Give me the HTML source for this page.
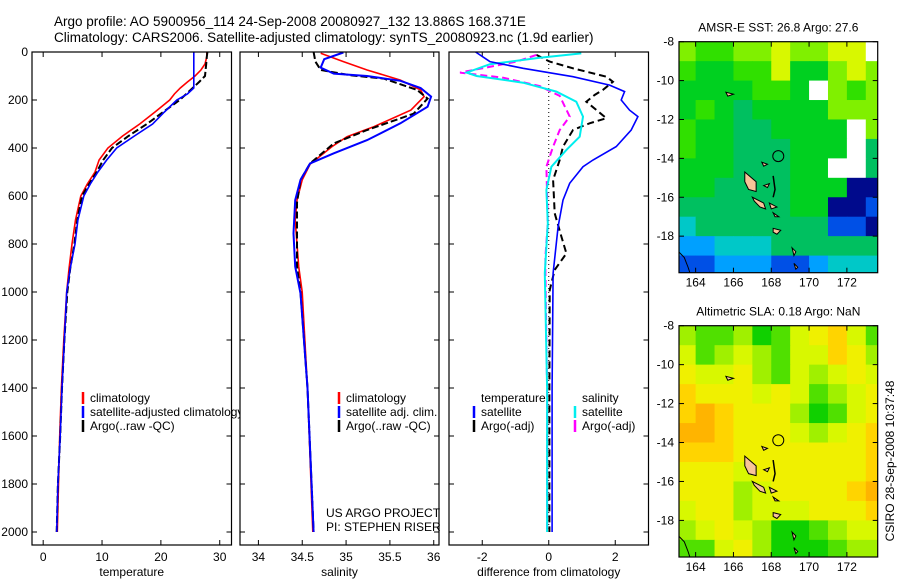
<!DOCTYPE html>
<html><head><meta charset="utf-8"><style>
html,body{margin:0;padding:0;background:#fff}
svg{display:block;font-family:"Liberation Sans",sans-serif}
</style></head><body>
<svg id="c" width="900" height="580" xmlns="http://www.w3.org/2000/svg"></svg>
<script>
// ---- data ----
const tempClimDepth=[0,20,50,75,100,125,150,175,200,250,300,350,400,450,500,550,600,700,800,900,1000,1200,1400,1600,1800,2000];
const tempClim=[27.8,27.8,27.5,26.8,25.8,24.5,23.3,22.3,21.5,19,16.4,13.5,11,9.5,8.8,7.5,6.4,5.5,4.9,4.4,4.0,3.5,3.1,2.8,2.6,2.4];
const tempSat=[25.6,25.6,25.6,25.6,25.6,25.6,25.6,24.5,22.7,20.6,18.6,15.5,12.5,10.8,9.3,8,6.9,5.9,5.4,4.6,4.0,3.6,3.2,2.9,2.5,2.3];
const tempArgo=[27.9,27.8,27.7,27.6,27.5,26.5,25.4,24.3,23.2,20.4,17.6,14.5,11.7,10.2,9.1,7.8,6.6,5.8,5.3,4.6,4.1,3.6,3.2,2.9,2.5,2.3];
const salClimDepth=[5,40,75,117,158,186,242,311,353,394,467,533,617,700,894,1000,1400,2000];
const salClim=[34.71,34.97,35.24,35.62,35.85,35.89,35.74,35.32,35.01,34.84,34.59,34.5,34.44,34.42,34.46,34.5,34.56,34.62];
const salSatDepth=[2,30,65,90,100,120,150,186,228,297,367,422,464,533,617,756,894,1006,1400,2000];
const salSat=[34.97,34.75,34.71,34.86,35.24,35.62,35.85,35.97,35.93,35.62,35.24,34.86,34.59,34.48,34.42,34.40,34.42,34.48,34.56,34.63];
const salArgoDepth=[0,40,75,97,111,158,194,257,325,381,464,533,628,700,894,1000,1400,2000];
const salArgo=[34.63,34.65,34.71,35.05,35.43,35.81,35.93,35.77,35.24,34.86,34.59,34.48,34.44,34.44,34.44,34.48,34.56,34.63];
const dTsatDepth=[0,40,68,103,138,165,200,242,269,325,394,450,478,547,617,728,922,1400,2000];
const dTsat=[-2.2,-1.77,-0.77,0.73,1.83,2.28,2.18,2.43,2.68,2.48,2.03,1.33,1.03,0.63,0.43,0.28,0.13,0.1,0.1];
const dTargoDepth=[12,40,68,103,124,158,179,207,276,297,325,394,450,533,672,769,839,908,992,1400,2000];
const dTargo=[-0.37,0.03,0.73,1.73,1.93,1.63,1.38,1.13,1.73,1.23,0.73,0.43,0.33,0.13,0.18,0.38,0.53,0.18,0.03,0.02,0.02];
const dSsatDepth=[6,24,51,86,100,128,165,207,269,353,408,478,575,714,922,1400,2000];
const dSsat=[0.98,-0.27,-1.77,-2.47,-2.17,-0.77,0.23,0.83,1.03,0.93,0.53,0.08,-0.07,-0.03,-0.12,-0.05,-0.05];
const dSargoDepth=[12,40,86,107,142,183,269,325,394,478,714,853,922,1400,2000];
const dSargo=[-0.37,-0.97,-2.67,-1.37,-0.27,0.33,0.63,0.33,0.13,-0.07,-0.03,-0.1,-0.1,-0.05,-0.05];
const depthTicks=[0,200,400,600,800,1000,1200,1400,1600,1800,2000];
const tempTicks=[0,10,20,30];
const salTicks=[34,34.5,35,35.5,36];
const salTickLabels=["34","34.5","35","35.5","36"];
const diffTicks=[-2,0,2];
const latTicks=[-8,-10,-12,-14,-16,-18];
const lonTicks=[164,166,168,170,172];
const sstGrid=[
[7,6,6,7,7,8,7,7,8,8,9],[6,5,5,6,6,8,5,5,7,8,7],[5,5,5,5,6,6,5,9,7,6,7],[5,6,5,4,5,5,5,5,7,7,7],
[6,5,5,4,4,5,5,5,5,9,7],[6,5,5,4,4,4,5,5,5,9,4],[5,5,5,4,4,4,5,5,9,9,4],[5,5,4,4,4,4,5,5,5,0,0],
[4,4,4,4,4,4,5,5,0,0,1],[3,4,4,4,4,4,4,4,1,1,0],[2,2,3,3,3,4,4,4,4,4,4],[1,1,2,2,2,1,1,2,3,3,3]];
const slaGrid=[
[2,1,1,2,0,1,3,4,5,3,1],[3,1,2,3,2,1,3,3,5,4,2],[4,3,3,4,2,1,3,2,3,4,3],[5,4,4,4,3,4,3,1,2,3,4],
[5,6,5,4,4,4,2,0,1,3,4],[6,6,5,4,4,4,3,2,3,4,5],[5,5,5,4,4,4,4,4,4,4,5],[4,4,4,3,4,4,4,4,4,4,5],
[4,4,4,2,3,4,4,4,4,5,6],[3,4,4,2,3,3,3,4,4,4,5],[2,3,4,3,2,0,0,1,2,3,3],[1,1,3,4,2,0,0,0,1,2,2]];
const sstColors=["#000a8c","#0050e6","#00a0ff","#00c8c8","#00c060","#00d020","#30e000","#80f000","#d8f800","#ffffff"];
const slaColors=["#10d000","#50e000","#a0f000","#d8f800","#f0f000","#ffd400","#ffb400"];
const argoLon=168.371, argoLat=-13.886;

const NS="http://www.w3.org/2000/svg", svg=document.getElementById('c');
function el(t,a,p){const e=document.createElementNS(NS,t);for(const k in a)e.setAttribute(k,a[k]);(p||svg).appendChild(e);return e;}
function txt(s,x,y,a,p){const e=el('text',Object.assign({x:x,y:y,'font-size':12,fill:'#000'},a||{}),p);e.textContent=s;return e;}
const Y0=52,YS=0.24, PB=545;
const yD=d=>Y0+d*YS;
function lin(d0,d1,r0,r1){return v=>r0+(v-d0)/(d1-d0)*(r1-r0);}

const panels=[
 {name:'temperature-panel',l:32,r:231.5,x:lin(-1.9,32,32,231.5),ticks:tempTicks,labels:tempTicks.map(String),title:'temperature'},
 {name:'salinity-panel',l:240,r:439,x:lin(33.79,36.06,240,439),ticks:salTicks,labels:salTickLabels,title:'salinity'},
 {name:'difference-panel',l:449,r:648.5,x:lin(-3,3,449,648.5),ticks:diffTicks,labels:diffTicks.map(String),title:'difference from climatology'}
];

function line(p,depths,vals,color,dash,w,name){
  const pts=depths.map((d,i)=>p.x(vals[i]).toFixed(1)+','+yD(d).toFixed(1)).join(' ');
  const e=el('polyline',{points:pts,fill:'none',stroke:color,'stroke-width':w||1.6,'stroke-dasharray':dash||'none'},p.g);
  
  
}

txt('Argo profile: AO 5900956_114 24-Sep-2008 20080927_132 13.886S 168.371E',54,26,{'font-size':13.5});
txt('Climatology: CARS2006. Satellite-adjusted climatology: synTS_20080923.nc (1.9d earlier)',54,42,{'font-size':13.5});

panels.forEach((p,pi)=>{
  const g=el('g',{});
  
  
  p.g=g;
  el('rect',{x:p.l,y:Y0,width:p.r-p.l,height:PB-Y0,fill:'#fff'},g);
  depthTicks.forEach(d=>{
    el('line',{x1:p.l,x2:p.l+5,y1:yD(d),y2:yD(d),stroke:'#000'},g);
    el('line',{x1:p.r,x2:p.r-5,y1:yD(d),y2:yD(d),stroke:'#000'},g);
    if(pi===0) txt(String(d),p.l-4,yD(d)+4,{'text-anchor':'end','font-size':12},g);
  });
  p.ticks.forEach((t,i)=>{
    const x=p.x(t);
    el('line',{x1:x,x2:x,y1:PB,y2:PB-5,stroke:'#000'},g);
    el('line',{x1:x,x2:x,y1:Y0,y2:Y0+5,stroke:'#000'},g);
    txt(p.labels[i],x,561,{'text-anchor':'middle'},g);
  });
  txt(p.title,(p.l+p.r)/2,576,{'text-anchor':'middle'},g);
});
const [P1,P2,P3]=panels;
el('line',{x1:P3.x(0),x2:P3.x(0),y1:Y0,y2:yD(2000),stroke:'#000','stroke-dasharray':'1,3'},P3.g);

line(P1,tempClimDepth,tempClim,'#f00','',1.6,'temp-climatology-line');
line(P1,tempClimDepth,tempArgo,'#000','7,3',2,'temp-argo-line');
line(P1,tempClimDepth,tempSat,'#00f','',1.6,'temp-satellite-line');
line(P2,salClimDepth,salClim,'#f00','',1.6,'sal-climatology-line');
line(P2,salArgoDepth,salArgo,'#000','7,3',2,'sal-argo-line');
line(P2,salSatDepth,salSat,'#00f','',2,'sal-satellite-line');
line(P3,dTargoDepth,dTargo,'#000','7,4',2,'diff-temp-argo-line');
line(P3,dSargoDepth,dSargo,'#f0f','7,4',2,'diff-sal-argo-line');
line(P3,dSsatDepth,dSsat,'#0ee','',2,'diff-sal-satellite-line');
line(P3,dTsatDepth,dTsat,'#00f','',1.6,'diff-temp-satellite-line');

function legend(g,x,y,color,label,name){
  const e=el('g',{},g);
  if(color) el('line',{x1:x,x2:x,y1:y-6,y2:y+6,stroke:color,'stroke-width':2.5},e);
  txt(label,x+7,y+4,{},e);
}
legend(P1.g,83,398,'#f00','climatology','legend-climatology');
legend(P1.g,83,412,'#00f','satellite-adjusted climatology','legend-satellite-adjusted');
legend(P1.g,83,426,'#000','Argo(..raw -QC)','legend-argo');
panels.forEach(p=>el('rect',{x:p.l,y:Y0,width:p.r-p.l,height:PB-Y0,fill:'none',stroke:'#000','stroke-width':1.2},p.g));
svg.appendChild(P2.g);svg.appendChild(P3.g);
legend(P2.g,339,398,'#f00','climatology','legend-sal-climatology');
legend(P2.g,339,412,'#00f','satellite adj. clim.','legend-sal-satellite');
legend(P2.g,339,426,'#000','Argo(..raw -QC)','legend-sal-argo');
txt('US ARGO PROJECT',326,517,{},P2.g);
txt('PI: STEPHEN RISER',326,531,{},P2.g);
legend(P3.g,474,398,null,'temperature','legend-temperature-header');
legend(P3.g,474,412,'#00f','satellite','legend-diff-temp-satellite');
legend(P3.g,474,426,'#000','Argo(-adj)','legend-diff-temp-argo');
legend(P3.g,575,398,null,'salinity','legend-salinity-header');
legend(P3.g,575,412,'#0ee','satellite','legend-diff-sal-satellite');
legend(P3.g,575,426,'#f0f','Argo(-adj)','legend-diff-sal-argo');

function map(name,top,bottom,grid,colors,title){
  const L=679,R=877.7;
  const lx=lin(163.12,173.63,L,R), ly=lin(-8,-19.88,top,bottom);
  const g=el('g',{});
  const cp='clip-'+name;
  const cl=el('clipPath',{id:cp},g);el('rect',{x:L,y:top,width:R-L,height:bottom-top},cl);
  const cg=el('g',{'clip-path':'url(#'+cp+')'},g);
  grid.forEach((row,ri)=>row.forEach((v,ci)=>{
    const x0=lx(163+ci),x1=lx(164+ci),y0=ly(-8-ri),y1=ly(-9-ri);
    const c=el('rect',{x:x0,y:y0,width:x1-x0+0.5,height:y1-y0+0.5,fill:colors[v]},cg);
    
    
  }));
  const isl=[[[166.6,-14.7],[167.2,-15.2],[167.2,-15.7],[166.8,-15.6],[166.6,-15.2]],
   [[167.0,-16.0],[167.6,-16.3],[167.7,-16.6],[167.4,-16.5],[167.1,-16.2]],
   [[168.1,-17.6],[168.5,-17.7],[168.3,-17.9],[168.1,-17.8]],
   [[169.1,-18.6],[169.3,-18.8],[169.2,-19.0]],[[169.2,-19.4],[169.4,-19.6],[169.3,-19.7]],
   [[167.9,-16.3],[168.3,-16.5],[168.0,-16.6]],[[168.1,-16.8],[168.4,-17.0],[168.2,-17.0]],
   [[165.6,-10.6],[166.0,-10.7],[165.7,-10.8]],[[167.5,-14.2],[167.8,-14.3],[167.6,-14.4]],
   [[167.6,-15.4],[167.9,-15.3],[167.8,-15.5]]];
  isl.forEach(poly=>{const e=el('polygon',{points:poly.map(p=>lx(p[0])+','+ly(p[1])).join(' '),fill:'#f8c498',stroke:'#000','stroke-width':1},cg);});
  el('polyline',{points:[[168.1,-14.9],[168.2,-15.6],[168.1,-16.0]].map(p=>lx(p[0])+','+ly(p[1])).join(' '),fill:'none',stroke:'#000','stroke-width':1.5},cg);
  el('polyline',{points:[[163.1,-18.8],[163.4,-19.1],[163.6,-19.6],[163.7,-19.9]].map(p=>lx(p[0])+','+ly(p[1])).join(' '),fill:'none',stroke:'#000'},cg);
  const ci=el('circle',{cx:lx(argoLon),cy:ly(argoLat),r:5.5,fill:'none',stroke:'#000'},g);
  
  el('rect',{x:L,y:top,width:R-L,height:bottom-top,fill:'none',stroke:'#000','stroke-width':1.2},g);
  latTicks.forEach(t=>{const y=ly(t);el('line',{x1:L,x2:L+5,y1:y,y2:y,stroke:'#000'},g);el('line',{x1:R,x2:R-5,y1:y,y2:y,stroke:'#000'},g);txt(String(t),L-5,y+4,{'text-anchor':'end'},g);});
  lonTicks.forEach(t=>{const x=lx(t);el('line',{x1:x,x2:x,y1:bottom,y2:bottom-5,stroke:'#000'},g);el('line',{x1:x,x2:x,y1:top,y2:top+5,stroke:'#000'},g);txt(String(t),x,bottom+14,{'text-anchor':'middle'},g);});
  txt(title,(L+R)/2,top-10,{'text-anchor':'middle'},g);
}
map('sst-map',41.7,272.7,sstGrid,sstColors,'AMSR-E SST: 26.8 Argo: 27.6');
map('sla-map',325.7,557,slaGrid,slaColors,'Altimetric SLA: 0.18 Argo: NaN');
const cs=txt('CSIRO 28-Sep-2008 10:37:48',0,0,{'text-anchor':'middle',transform:'translate(894,461) rotate(-90)'});

</script>
</body></html>
